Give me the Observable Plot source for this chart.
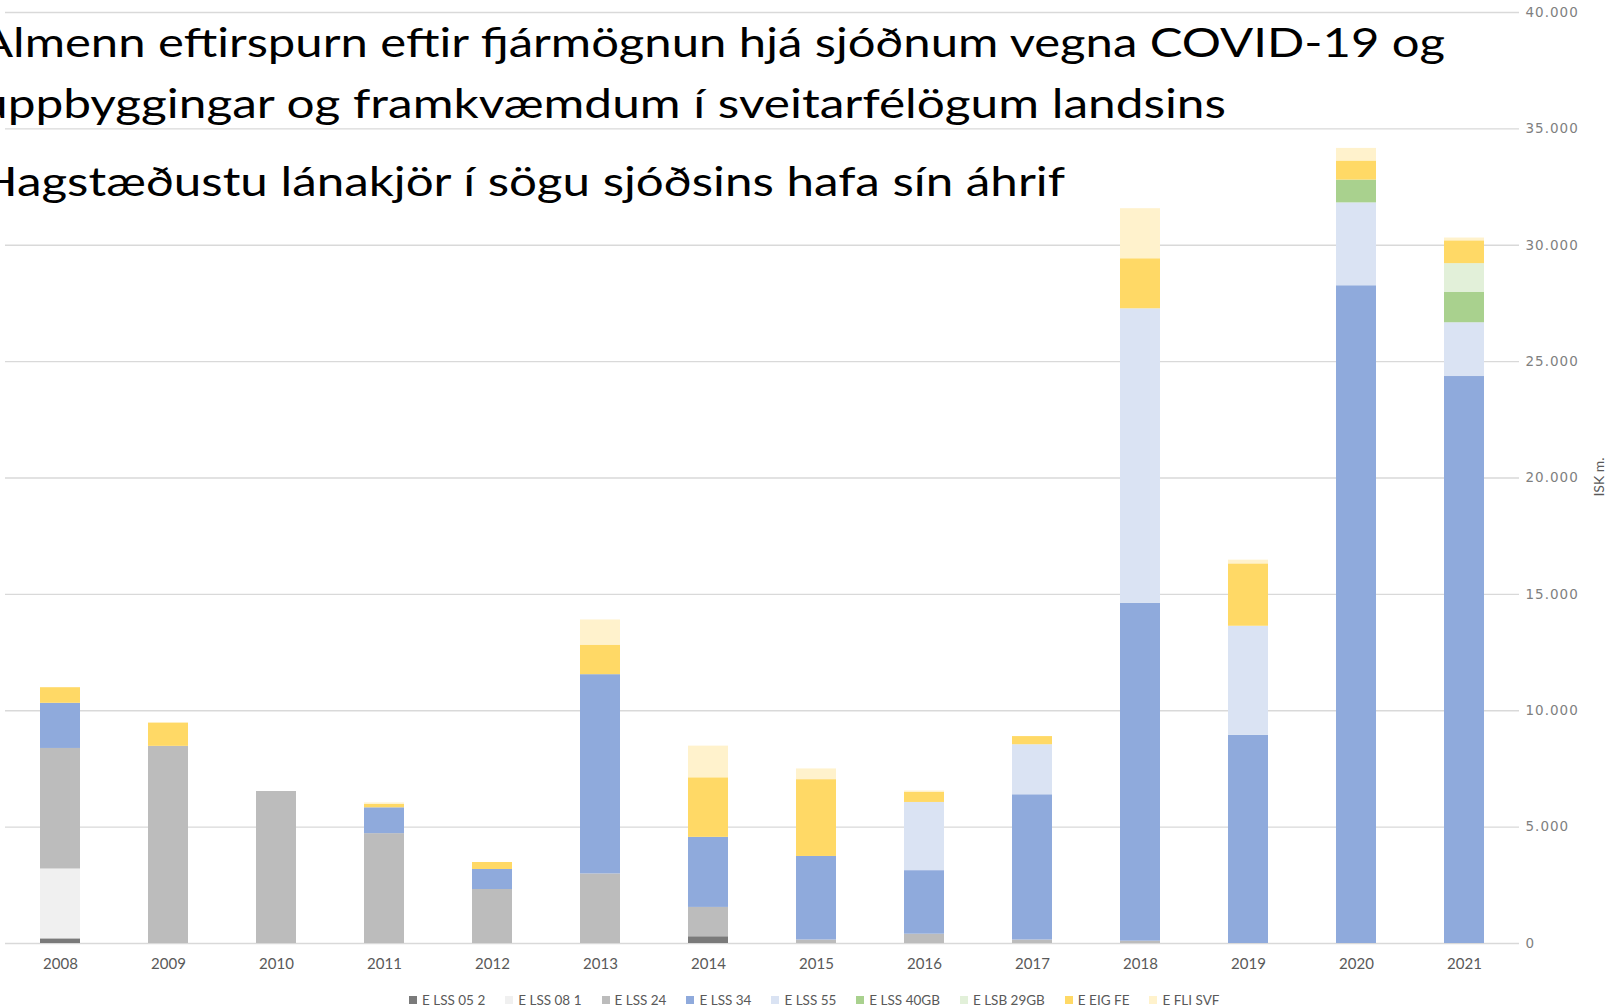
<!DOCTYPE html>
<html>
<head>
<meta charset="utf-8">
<script src="https://cdn.jsdelivr.net/npm/d3@7"></script>
<script src="https://cdn.jsdelivr.net/npm/@observablehq/plot@0.6"></script>
<style>
  html, body { margin: 0; padding: 0; background: #fff; }
  #wrap { position: relative; width: 1615px; height: 1007px; overflow: hidden; }
  #chart svg { display: block; }
  #overlay { position: absolute; left: 0; top: 0; pointer-events: none; }
  #legend { position: absolute; left: 409px; top: 991px; height: 18px; display: flex; align-items: center;
            font-family: Lato, sans-serif; font-size: 13.5px; color: #595959; }
  #legend .it { display: flex; align-items: center; margin-right: 20px; }
  #legend .sw { width: 8px; height: 8px; margin-right: 5px; }
</style>
</head>
<body>
<div id="wrap">
  <div id="chart"></div>
  <svg id="overlay" width="1615" height="990"></svg>
  <div id="legend"></div>
</div>
<script>
const years = [2008, 2009, 2010, 2011, 2012, 2013, 2014, 2015, 2016, 2017, 2018, 2019, 2020, 2021];
const seriesNames = ["E LSS 05 2", "E LSS 08 1", "E LSS 24", "E LSS 34", "E LSS 55", "E LSS 40GB", "E LSB 29GB", "E EIG FE", "E FLI SVF"];
const seriesColors = ["#7a7a7a", "#f0f0f0", "#bcbcbc", "#8faadc", "#dae3f3", "#a9d18e", "#e2f0d9", "#ffd966", "#fff2cc"];

const lss052  = [200, 0, 0, 0, 0, 0, 290, 0, 0, 0, 0, 0, 0, 0];
const lss081  = [3000, 0, 0, 0, 0, 0, 0, 0, 0, 0, 0, 0, 0, 0];
const lss24   = [5180, 8470, 6530, 4720, 2320, 2990, 1260, 150, 400, 150, 100, 0, 0, 0];
const lss34   = [1940, 0, 0, 1110, 860, 8560, 3010, 3590, 2730, 6240, 14510, 8940, 28260, 24360];
const lss55   = [0, 0, 0, 0, 0, 0, 0, 0, 2930, 2150, 12660, 4690, 3560, 2310];
const lss40gb = [0, 0, 0, 0, 0, 0, 0, 0, 0, 0, 0, 0, 980, 1300];
const lsb29gb = [0, 0, 0, 0, 0, 0, 0, 0, 0, 0, 0, 0, 0, 1240];
const eigfe   = [670, 1000, 0, 150, 300, 1270, 2560, 3300, 440, 350, 2150, 2680, 820, 980];
const flisvf  = [0, 0, 0, 60, 0, 1080, 1360, 460, 50, 0, 2150, 160, 540, 120];

const yTicks = [0, 5000, 10000, 15000, 20000, 25000, 30000, 35000, 40000];
const titleLines = [
  "Almenn eftirspurn eftir fjármögnun hjá sjóðnum vegna COVID-19 og",
  "uppbyggingar og framkvæmdum í sveitarfélögum landsins",
  "Hagstæðustu lánakjör í sögu sjóðsins hafa sín áhrif"
];
const yLabel = "ISK m.";

const seriesValues = [lss052, lss081, lss24, lss34, lss55, lss40gb, lsb29gb, eigfe, flisvf];
const data = years.flatMap((yr, i) =>
  seriesValues.map((vals, j) => ({year: String(yr), series: seriesNames[j], value: vals[i]}))
);

const locale = d3.formatLocale({decimal: ",", thousands: ".", grouping: [3], currency: ["", ""]});
const fmt = locale.format(",");

const chart = Plot.plot({
  width: 1615,
  height: 990,
  marginLeft: 5,
  marginRight: 96,
  marginTop: 12,
  marginBottom: 47,
  style: {fontFamily: "Lato, sans-serif", background: "#fff"},
  x: {type: "band", domain: years.map(String), paddingInner: 0.63, paddingOuter: 0.31, label: null},
  y: {domain: [0, 40000], label: null},
  color: {domain: seriesNames, range: seriesColors},
  marks: [
    Plot.gridY(yTicks, {stroke: "#d9d9d9", strokeOpacity: 1, strokeWidth: 1.3}),
    Plot.barY(data, {x: "year", y: "value", fill: "series", order: seriesNames}),
    Plot.axisX({tickSize: 0, tickPadding: 15, fontSize: 15, color: "#595959", label: null}),
    Plot.axisY(yTicks, {anchor: "right", tickSize: 0, tickPadding: 6, tickFormat: fmt,
      fontFamily: "DejaVu Sans, sans-serif", fontSize: 13.5, color: "#7f7f7f", label: null})
  ]
});
chart.querySelectorAll("g[aria-label='y-axis tick label'] text").forEach(t => t.setAttribute("letter-spacing", "1"));
document.getElementById("chart").appendChild(chart);

// overlay texts: title and y-axis unit label
const ov = d3.select("#overlay");
const tx = -20;
const tBase = [57, 118, 196];
const tLen = [1465, 1246, 1085];
titleLines.forEach((t, i) => {
  ov.append("text")
    .attr("x", tx).attr("y", tBase[i])
    .attr("font-family", "Lato, sans-serif")
    .attr("font-size", 41)
    .attr("fill", "#000")
    .attr("textLength", tLen[i])
    .attr("lengthAdjust", "spacingAndGlyphs")
    .text(t);
});
ov.append("text")
  .attr("transform", "translate(1604,477) rotate(-90)")
  .attr("text-anchor", "middle")
  .attr("font-family", "Lato, sans-serif")
  .attr("font-size", 14)
  .attr("fill", "#595959")
  .text(yLabel);

// legend
const leg = d3.select("#legend");
seriesNames.forEach((s, i) => {
  const it = leg.append("div").attr("class", "it");
  it.append("div").attr("class", "sw").style("background", seriesColors[i]);
  it.append("span").text(s);
});
</script>
</body>
</html>
